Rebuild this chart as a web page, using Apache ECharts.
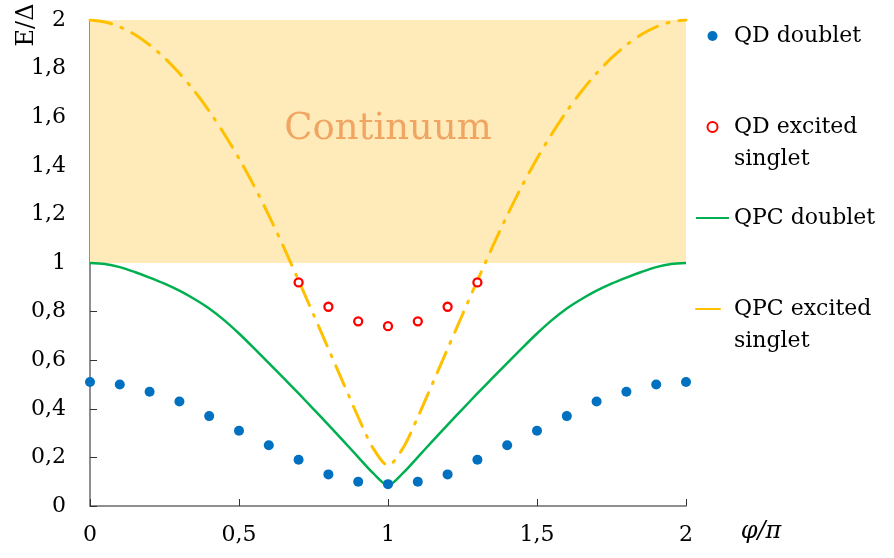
<!DOCTYPE html>
<html>
<head>
<meta charset="utf-8">
<style>
  html, body { margin: 0; padding: 0; background: #ffffff; }
  #chart { width: 894px; height: 558px; }
</style>
<script src="https://cdn.jsdelivr.net/npm/echarts@6/dist/echarts.min.js"></script>
</head>
<body>
<div id="chart"></div>
<script>
// Phase values (in units of pi) for the measured QD states
const phiDots = [0, 0.1, 0.2, 0.3, 0.4, 0.5, 0.6, 0.7, 0.8, 0.9, 1.0,
                 1.1, 1.2, 1.3, 1.4, 1.5, 1.6, 1.7, 1.8, 1.9, 2.0];
const qdDoublet = [0.51, 0.50, 0.47, 0.43, 0.37, 0.31, 0.25, 0.19, 0.13, 0.10, 0.09,
                   0.10, 0.13, 0.19, 0.25, 0.31, 0.37, 0.43, 0.47, 0.50, 0.51];

const phiExcited = [0.7, 0.8, 0.9, 1.0, 1.1, 1.2, 1.3];
const qdExcited = [0.92, 0.82, 0.76, 0.74, 0.76, 0.82, 0.92];

// Phase grid for the QPC curves
const phiCurve = [0, 0.05, 0.1, 0.15, 0.2, 0.25, 0.3, 0.35, 0.4, 0.45, 0.5,
                  0.55, 0.6, 0.65, 0.7, 0.75, 0.8, 0.85, 0.9, 0.95, 1.0,
                  1.05, 1.1, 1.15, 1.2, 1.25, 1.3, 1.35, 1.4, 1.45, 1.5,
                  1.55, 1.6, 1.65, 1.7, 1.75, 1.8, 1.85, 1.9, 1.95, 2.0];
const qpcDoublet = [1.0, 0.996, 0.983, 0.963, 0.940, 0.915, 0.886, 0.852, 0.813, 0.765, 0.710,
                    0.650, 0.588, 0.526, 0.463, 0.399, 0.334, 0.268, 0.201, 0.135, 0.085,
                    0.135, 0.201, 0.268, 0.334, 0.399, 0.463, 0.526, 0.588, 0.650, 0.710,
                    0.765, 0.813, 0.852, 0.886, 0.915, 0.940, 0.963, 0.983, 0.996, 1.0];
const qpcExcited = [2.0, 1.992, 1.972, 1.940, 1.897, 1.844, 1.781, 1.708, 1.625, 1.532, 1.430,
                    1.318, 1.196, 1.065, 0.928, 0.788, 0.647, 0.506, 0.366, 0.238, 0.167,
                    0.238, 0.366, 0.506, 0.647, 0.788, 0.928, 1.065, 1.196, 1.318, 1.430,
                    1.532, 1.625, 1.708, 1.781, 1.844, 1.897, 1.940, 1.972, 1.992, 2.0];

// Energy range of the continuum band
const continuumRange = [1, 2];

const seriesNames = ['QD doublet', 'QD excited singlet', 'QPC doublet', 'QPC excited singlet'];

const zip = (xs, ys) => xs.map((x, i) => [x, ys[i]]);
const decimalComma = v => String(Math.round(v * 10) / 10).replace('.', ',');
// Two-line legend names get an empty lead line so the first line sits level with the icon
const legendText = name => name.indexOf(' singlet') > -1 ? '\n' + name.replace(' singlet', '\nsinglet') : name;

const FONT = 'DejaVu Serif';
const AXIS_COLOR = '#6a6a6a';

const chart = echarts.init(document.getElementById('chart'), null, { renderer: 'canvas' });

chart.setOption({
  animation: false,
  backgroundColor: '#ffffff',
  grid: { left: 90, right: 208, top: 20, bottom: 52, containLabel: false },
  xAxis: {
    type: 'value',
    min: 0, max: 2, interval: 0.5,
    axisLine: { show: true, lineStyle: { color: AXIS_COLOR, width: 1.5 } },
    axisTick: { show: true, inside: true, length: 7, lineStyle: { color: '#333', width: 1 } },
    splitLine: { show: false },
    axisLabel: { margin: 18, color: '#000', fontFamily: FONT, fontSize: 22, formatter: decimalComma }
  },
  yAxis: {
    type: 'value',
    min: 0, max: 2, interval: 0.2,
    axisLine: { show: true, onZero: false, lineStyle: { color: AXIS_COLOR, width: 1.5 } },
    axisTick: { show: true, inside: true, length: 7, lineStyle: { color: '#333', width: 1 } },
    splitLine: { show: false },
    axisLabel: { margin: 24, color: '#000', fontFamily: FONT, fontSize: 22, formatter: decimalComma }
  },
  legend: {
    orient: 'vertical',
    left: 695, top: 20,
    padding: 0,
    itemGap: 27,
    itemWidth: 33,
    itemHeight: 10,
    textStyle: { fontFamily: FONT, fontSize: 22, color: '#000', lineHeight: 32 },
    formatter: legendText,
    data: [
      { name: seriesNames[0] },
      { name: seriesNames[1] },
      { name: seriesNames[2], itemStyle: { opacity: 0 } },
      { name: seriesNames[3], itemStyle: { opacity: 0 }, lineStyle: { type: [24, 20] } }
    ]
  },
  graphic: [
    {
      type: 'text',
      x: 27, y: 25,
      rotation: Math.PI / 2,
      style: { text: 'E/Δ', font: '24px "DejaVu Serif"', fill: '#000', align: 'center', verticalAlign: 'middle' }
    },
    {
      type: 'text',
      x: 761, y: 532,
      style: { text: 'φ/π', font: 'italic 24px "DejaVu Serif"', fill: '#000', align: 'center', verticalAlign: 'middle' }
    }
  ],
  series: [
    {
      name: seriesNames[0],
      type: 'scatter',
      data: zip(phiDots, qdDoublet),
      symbol: 'circle',
      symbolSize: 10,
      itemStyle: { color: '#0070C0', opacity: 1 },
      z: 3,
      markArea: {
        silent: true,
        itemStyle: { color: '#FEEBB9' },
        label: {
          show: true,
          position: 'inside',
          offset: [0, -12],
          color: '#F0A563',
          fontFamily: FONT,
          fontSize: 37
        },
        data: [[
          { name: 'Continuum', xAxis: 0, yAxis: continuumRange[0] },
          { xAxis: 2, yAxis: continuumRange[1] }
        ]]
      }
    },
    {
      name: seriesNames[1],
      type: 'scatter',
      data: zip(phiExcited, qdExcited),
      symbol: 'circle',
      symbolSize: 8,
      itemStyle: { color: '#ffffff', borderColor: '#FF0000', borderWidth: 2.3, opacity: 1 },
      z: 4
    },
    {
      name: seriesNames[2],
      type: 'line',
      data: zip(phiCurve, qpcDoublet),
      showSymbol: false,
      symbol: 'none',
      smooth: 0.3,
      lineStyle: { color: '#00B050', width: 2.5 },
      itemStyle: { color: '#00B050' },
      z: 3
    },
    {
      name: seriesNames[3],
      type: 'line',
      data: zip(phiCurve, qpcExcited),
      showSymbol: false,
      symbol: 'none',
      smooth: 0.3,
      lineStyle: { color: '#FFC000', width: 3, type: [22, 10, 2, 10], cap: 'round' },
      itemStyle: { color: '#FFC000' },
      z: 3
    }
  ]
});
</script>
</body>
</html>
